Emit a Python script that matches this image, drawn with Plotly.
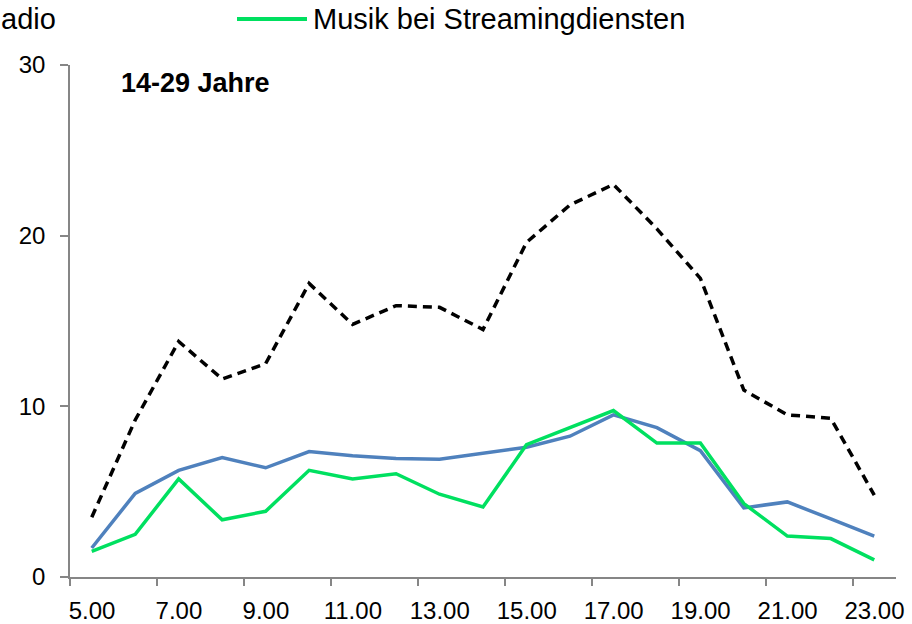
import plotly.graph_objects as go

hours = list(range(5, 24))
musik_gesamt = [3.5, 9.2, 13.8, 11.6, 12.5, 17.2, 14.8, 15.9, 15.8, 14.5, 19.6, 21.8, 23.0, 20.4, 17.5, 10.95, 9.5, 9.3, 4.8]
musik_radio = [1.7, 4.9, 6.25, 7.0, 6.4, 7.35, 7.1, 6.95, 6.9, 7.25, 7.6, 8.25, 9.5, 8.75, 7.4, 4.05, 4.4, 3.4, 2.4]
musik_streaming = [1.5, 2.5, 5.75, 3.35, 3.85, 6.25, 5.75, 6.05, 4.85, 4.1, 7.75, 8.75, 9.75, 7.85, 7.85, 4.3, 2.4, 2.25, 1.0]
tick_labels = ["5.00", "7.00", "9.00", "11.00", "13.00", "15.00", "17.00", "19.00", "21.00", "23.00"]
tick_hours = [5, 7, 9, 11, 13, 15, 17, 19, 21, 23]
y_ticks = [0, 10, 20, 30]

FONT = "Liberation Sans, Arial, sans-serif"
GRAY = "#868686"
GREEN = "#00E060"

fig = go.Figure()
fig.add_trace(go.Scatter(x=hours, y=musik_gesamt, mode="lines", name="Musik gesamt",
                         line=dict(color="black", width=3.5, dash="9px,6px"), showlegend=False))
fig.add_trace(go.Scatter(x=hours, y=musik_radio, mode="lines", name="Musik im Radio",
                         line=dict(color="#4F81BD", width=3.5), showlegend=False))
fig.add_trace(go.Scatter(x=hours, y=musik_streaming, mode="lines", name="Musik bei Streamingdiensten",
                         line=dict(color=GREEN, width=3.5), showlegend=False))

W, H = 912, 624
ml, mr, mt, mb = 70, 16, 65, 47
plot_w = W - ml - mr
plot_h = H - mt - mb
cat_w = plot_w / 19.0

def px_x(x):
    return (x - ml) / plot_w

def px_y(y):
    return 1 - (y - mt) / plot_h

fig.update_layout(
    width=W, height=H,
    margin=dict(l=ml, r=mr, t=mt, b=mb, autoexpand=False),
    paper_bgcolor="white", plot_bgcolor="white",
    font=dict(family=FONT, size=24, color="black"),
    xaxis=dict(range=[4.5, 23.5], tickvals=[h - 0.5 for h in tick_hours], ticktext=tick_labels,
               ticks="outside", ticklen=7, tickcolor=GRAY, tickwidth=1.5,
               ticklabelshift=int(round(cat_w / 2)), ticklabelstandoff=4,
               showline=True, linecolor=GRAY, linewidth=1.5,
               showgrid=False, zeroline=False, tickfont=dict(size=24)),
    yaxis=dict(range=[0, 30], tickvals=y_ticks, ticks="outside", ticklen=8, tickcolor=GRAY,
               tickwidth=1.5, showline=True, linecolor=GRAY, linewidth=1.5, showgrid=False,
               zeroline=False, tickfont=dict(size=24), ticklabelstandoff=10),
    showlegend=False,
)

# manual legend (the source legend is cut off at the left edge)
fig.add_shape(type="line", xref="paper", yref="paper",
              x0=px_x(237), x1=px_x(307), y0=px_y(19), y1=px_y(19),
              line=dict(color=GREEN, width=4))
fig.add_annotation(text="Musik bei Streamingdiensten", xref="paper", yref="paper",
                   x=px_x(311), y=px_y(19), xanchor="left", yanchor="middle",
                   showarrow=False, font=dict(size=29))
fig.add_annotation(text="adio", xref="paper", yref="paper",
                   x=px_x(-1), y=px_y(19), xanchor="left", yanchor="middle",
                   showarrow=False, font=dict(size=29))
fig.add_annotation(text="<b>14-29 Jahre</b>", xref="paper", yref="paper",
                   x=px_x(119), y=px_y(83), xanchor="left", yanchor="middle",
                   showarrow=False, font=dict(size=27))

fig.write_html("out.html", config={"displayModeBar": False},
               post_script="document.body.style.margin='0';")
